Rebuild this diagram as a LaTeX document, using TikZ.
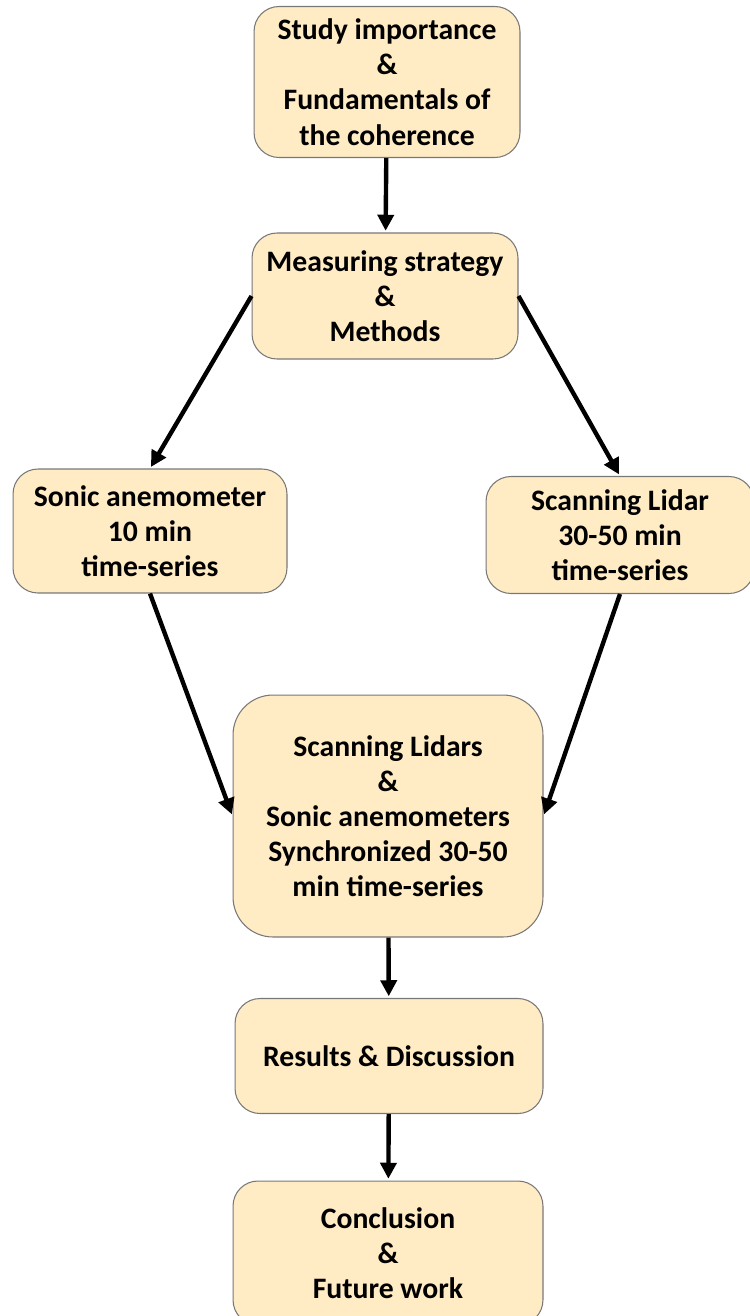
\documentclass[tikz,border=0pt]{standalone}
\usepackage{fontspec}
\setmainfont{Carlito}
\usepackage{tikz}
\usetikzlibrary{arrows.meta}
\definecolor{boxfill}{RGB}{255,236,196}
\definecolor{boxline}{RGB}{120,120,120}
\tikzset{
  box/.style={draw=boxline, line width=0.6pt, fill=boxfill, rounded corners=0.5cm,
    align=center, inner sep=2pt, font=\fontsize{16.9}{20}\selectfont\bfseries},
  arrow/.style={line width=2.5pt, -{Triangle[length=0.32cm,width=0.32cm]}, shorten >=1pt}
}
\begin{document}
\begin{tikzpicture}[x=0.02cm,y=-0.02cm]
\useasboundingbox (0,0) rectangle (750,1316);
\clip (0,0) rectangle (750,1316);
\node[box, minimum width=5.32cm, minimum height=3.02cm] (study) at (387,82)
  {Study importance\\\&\\Fundamentals of\\the coherence};
\node[box, minimum width=5.32cm, minimum height=2.52cm] (measure) at (385,296)
  {Measuring strategy\\\&\\Methods};
\node[box, minimum width=5.48cm, minimum height=2.48cm] (sonic) at (150,531)
  {Sonic anemometer\\10 min\\time-series};
\node[box, minimum width=5.36cm, minimum height=2.34cm] (lidar) at (620,535)
  {Scanning Lidar\\30-50 min\\time-series};
\node[box, rounded corners=0.8cm, minimum width=6.2cm, minimum height=4.84cm] (sync) at (388,816)
  {Scanning Lidars\\\&\\Sonic anemometers\\ Synchronized 30-50\\min time-series};
\node[box, minimum width=6.16cm, minimum height=2.3cm] (results) at (389,1056)
  {Results \& Discussion};
\node[box, minimum width=6.2cm, minimum height=2.88cm] (concl) at (388,1253)
  {Conclusion\\\&\\Future work};
\draw[arrow] (study) -- (measure);
\draw[arrow] (measure.west) -- (sonic.north);
\draw[arrow] (measure.east) -- (lidar.north);
\draw[arrow] (sonic.south) -- (sync.west);
\draw[arrow] (lidar.south) -- (sync.east);
\draw[arrow] (sync) -- (results);
\draw[arrow] (results) -- (concl);
\end{tikzpicture}
\end{document}
